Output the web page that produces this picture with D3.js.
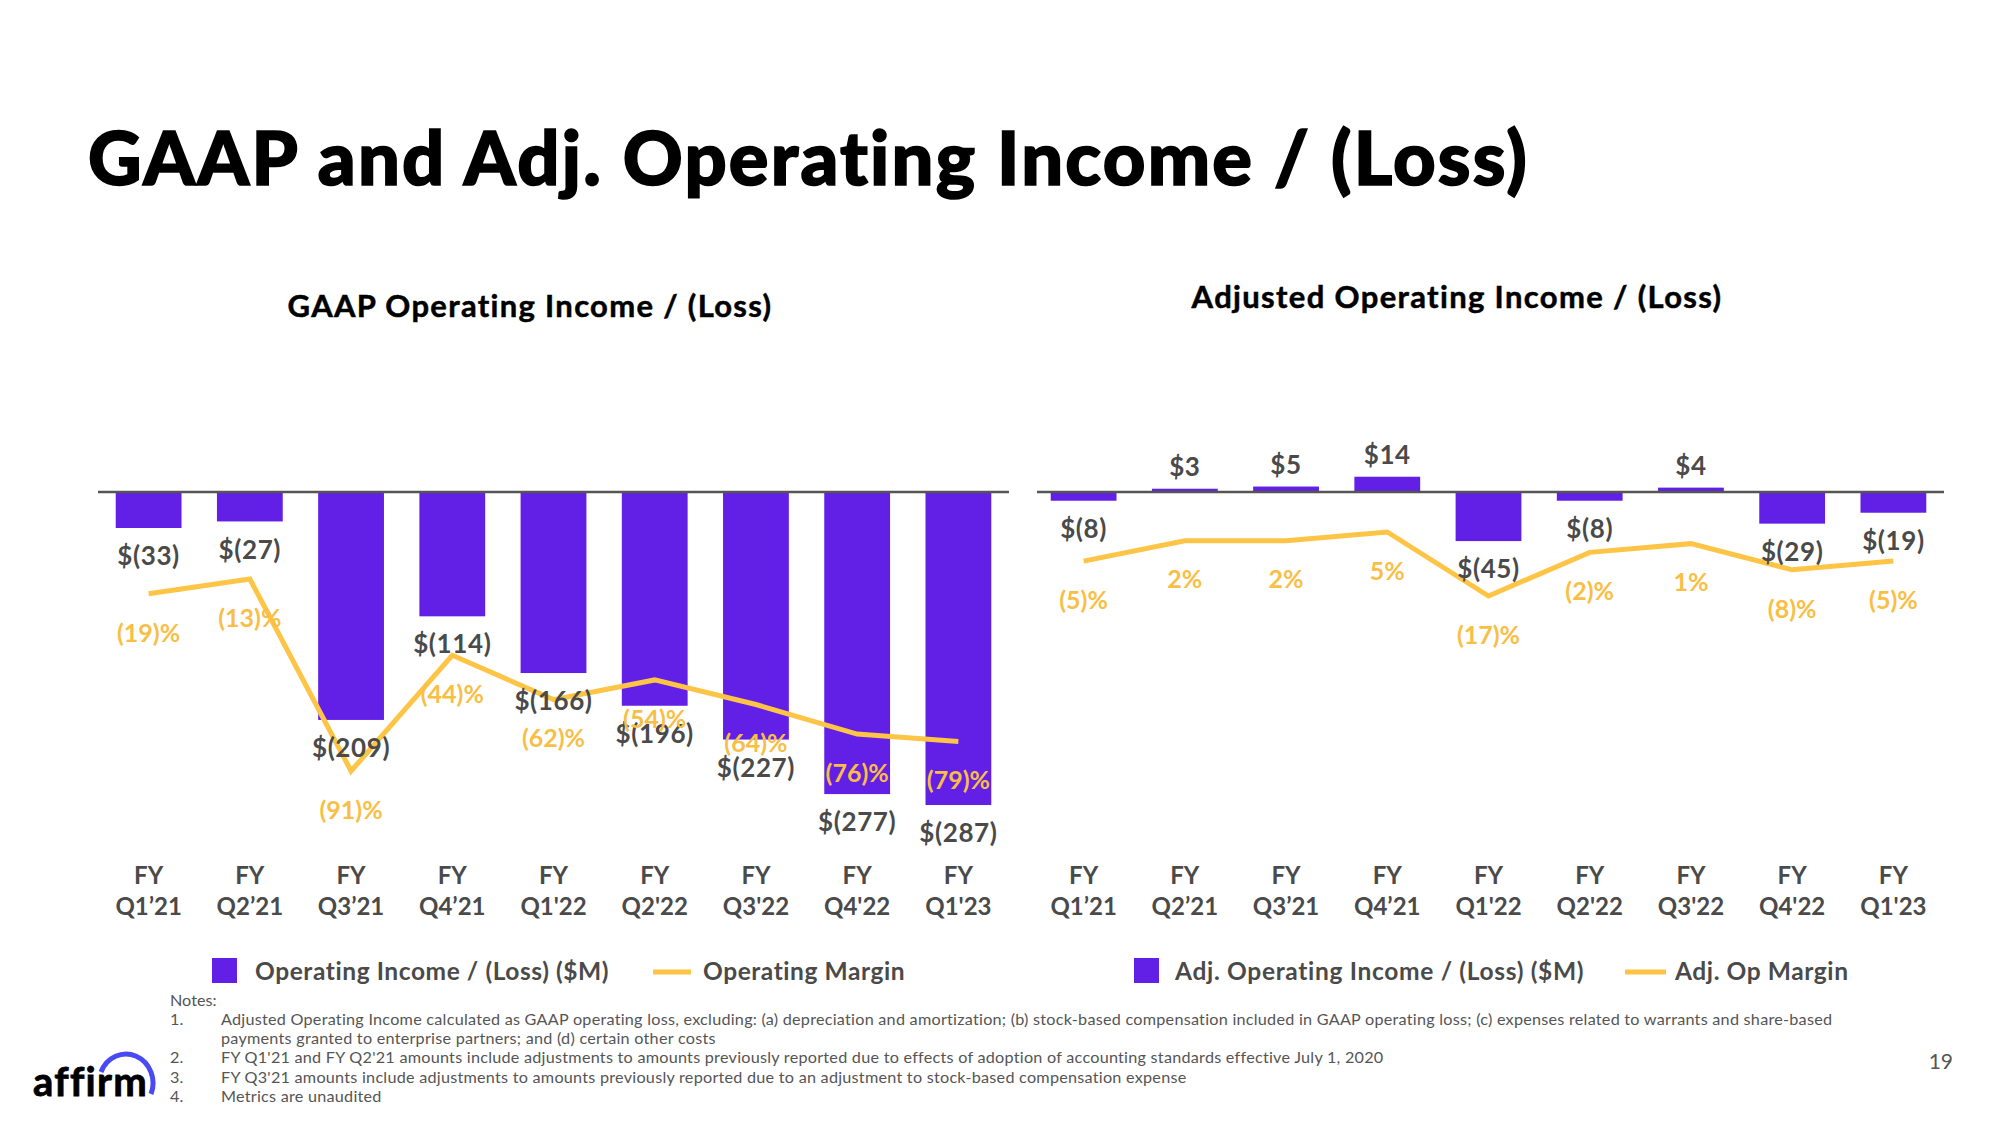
<!DOCTYPE html>
<html>
<head>
<meta charset="utf-8">
<script src="https://cdn.jsdelivr.net/npm/d3@7"></script>
<style>
  html, body { margin: 0; padding: 0; background: #fff; }
  svg { display: block; }
  text { font-family: "Lato", "Noto Sans", sans-serif; }
</style>
</head>
<body>
<svg id="chart" width="2000" height="1125"></svg>
<script>
// ---- data ----
const categories = ["Q1’21", "Q2’21", "Q3’21", "Q4’21", "Q1'22", "Q2'22", "Q3'22", "Q4'22", "Q1'23"];
const gaapIncome = [-33, -27, -209, -114, -166, -196, -227, -277, -287];
const gaapMargin = [-19, -13, -91, -44, -62, -54, -64, -76, -79];
const adjIncome = [-8, 3, 5, 14, -45, -8, 4, -29, -19];
const adjMargin = [-5, 2, 2, 5, -17, -2, 1, -8, -5];
const notes = [
  ["1.", "Adjusted Operating Income calculated as GAAP operating loss, excluding: (a) depreciation and amortization; (b) stock-based compensation included in GAAP operating loss; (c) expenses related to warrants and share-based"],
  ["", "payments granted to enterprise partners; and (d) certain other costs"],
  ["2.", "FY Q1'21 and FY Q2'21 amounts include adjustments to amounts previously reported due to effects of adoption of accounting standards effective July 1, 2020"],
  ["3.", "FY Q3'21 amounts include adjustments to amounts previously reported due to an adjustment to stock-based compensation expense"],
  ["4.", "Metrics are unaudited"]
];

const PURPLE = "#621FE6";
const GOLD = "#FDC445";
const GOLD_TXT = "#F9BE45";
const GRAY = "#4A4A4A";

const svg = d3.select("#chart");

// stretch a text to a target width with letter-spacing
function fit(sel, target) {
  const node = sel.node();
  const len = node.getComputedTextLength();
  const n = node.textContent.length;
  if (n > 1) sel.attr("letter-spacing", (target - len) / (n - 1));
  return sel;
}

// Title
fit(svg.append("text").attr("x", 88).attr("y", 185)
  .attr("font-size", 74).attr("font-weight", 900).attr("fill", "#000")
  .attr("stroke", "#000").attr("stroke-width", 1.6)
  .text("GAAP and Adj. Operating Income / (Loss)"), 1440);

const fmtMoney = v => v < 0 ? `$(${Math.abs(v)})` : `$${v}`;
const fmtPct = v => v < 0 ? `(${Math.abs(v)})%` : `${v}%`;

function panel(opts) {
  const g = svg.append("g");
  const x = d3.scaleBand().domain(categories).range(opts.xRange)
    .paddingInner(0.35).paddingOuter(0.175);
  const y = d3.scaleLinear().domain([0, -287]).range([492, 805]);
  const ym = d3.scaleLinear().domain(opts.mDomain).range(opts.mRange);
  const data = categories.map((c, i) => ({ c, v: opts.income[i], m: opts.margin[i] }));

  // subtitle
  fit(g.append("text").attr("x", opts.subX).attr("y", opts.subY)
    .attr("text-anchor", "middle").attr("font-size", 31).attr("font-weight", 700)
    .attr("fill", "#000").attr("stroke", "#000").attr("stroke-width", 0.5)
    .text(opts.subtitle), opts.subW);

  // bars
  g.selectAll("rect.bar").data(data).join("rect").attr("class", "bar")
    .attr("x", d => x(d.c))
    .attr("width", x.bandwidth())
    .attr("y", d => Math.min(y(d.v), y(0)))
    .attr("height", d => Math.abs(y(d.v) - y(0)))
    .attr("fill", PURPLE);

  // zero line
  g.append("line").attr("x1", opts.lineX[0]).attr("x2", opts.lineX[1])
    .attr("y1", y(0)).attr("y2", y(0))
    .attr("stroke", "#555").attr("stroke-width", 2.5);

  // margin line
  const line = d3.line().x(d => x(d.c) + x.bandwidth() / 2).y(d => ym(d.m));
  g.append("path").datum(data).attr("d", line)
    .attr("fill", "none").attr("stroke", GOLD).attr("stroke-width", 5)
    .attr("stroke-linejoin", "miter");

  // value labels
  g.selectAll("text.val").data(data).join("text").attr("class", "val")
    .attr("x", d => x(d.c) + x.bandwidth() / 2)
    .attr("y", d => d.v < 0 ? y(d.v) + 28 : y(d.v) - 22)
    .attr("dy", "0.35em")
    .attr("text-anchor", "middle").attr("font-size", 26).attr("font-weight", 700)
    .attr("letter-spacing", 0.6)
    .attr("fill", GRAY).text(d => fmtMoney(d.v));

  // margin labels
  g.selectAll("text.pct").data(data).join("text").attr("class", "pct")
    .attr("x", d => x(d.c) + x.bandwidth() / 2)
    .attr("y", d => ym(d.m) + 39)
    .attr("dy", "0.35em")
    .attr("text-anchor", "middle").attr("font-size", 25).attr("font-weight", 700)
    .attr("fill", GOLD_TXT).text(d => fmtPct(d.m));

  // x axis
  const ax = g.append("g").call(d3.axisBottom(x).tickSize(0).tickPadding(0));
  ax.select(".domain").remove();
  ax.selectAll(".tick text").each(function (d) {
    const t = d3.select(this);
    t.text(null).attr("y", 0).attr("dy", null)
      .attr("font-size", 24).attr("font-weight", 700).attr("fill", GRAY)
      .attr("font-family", "Lato, 'Noto Sans', sans-serif");
    t.append("tspan").attr("x", 0).attr("y", 884).text("FY");
    t.append("tspan").attr("x", 0).attr("y", 915).text(d);
  });

  // legend
  const lg = g.append("g");
  lg.append("rect").attr("x", opts.leg.sq).attr("y", 958).attr("width", 25).attr("height", 25).attr("fill", PURPLE);
  fit(lg.append("text").attr("x", opts.leg.t1).attr("y", 980).attr("font-size", 24.5).attr("font-weight", 700)
    .attr("fill", GRAY).text(opts.leg.l1), opts.leg.w1);
  lg.append("line").attr("x1", opts.leg.ln[0]).attr("x2", opts.leg.ln[1]).attr("y1", 972).attr("y2", 972)
    .attr("stroke", GOLD).attr("stroke-width", 5);
  fit(lg.append("text").attr("x", opts.leg.t2).attr("y", 980).attr("font-size", 24.5).attr("font-weight", 700)
    .attr("fill", GRAY).text(opts.leg.l2), opts.leg.w2);
}

panel({
  xRange: [98, 1009], lineX: [98, 1009],
  income: gaapIncome, margin: gaapMargin,
  mDomain: [0, -91], mRange: [547, 771],
  subtitle: "GAAP Operating Income / (Loss)", subX: 530, subY: 317, subW: 484,
  leg: { sq: 212, t1: 255, l1: "Operating Income / (Loss) ($M)", w1: 354, ln: [653, 691], t2: 703, l2: "Operating Margin", w2: 202 }
});
panel({
  xRange: [1033, 1944], lineX: [1037, 1944],
  income: adjIncome, margin: adjMargin,
  mDomain: [5, -17], mRange: [532, 596],
  subtitle: "Adjusted Operating Income / (Loss)", subX: 1457, subY: 308, subW: 530,
  leg: { sq: 1134, t1: 1175, l1: "Adj. Operating Income / (Loss) ($M)", w1: 409, ln: [1625, 1666], t2: 1675, l2: "Adj. Op Margin", w2: 173 }
});

// Notes
const NOTE_FS = 16.2;
svg.append("text").attr("x", 170).attr("y", 1006).attr("font-size", NOTE_FS).attr("fill", "#555").text("Notes:");
notes.forEach((n, i) => {
  const yy = [1025, 1044, 1063, 1083, 1102][i];
  if (n[0]) svg.append("text").attr("x", 170).attr("y", yy).attr("font-size", NOTE_FS).attr("fill", "#555").text(n[0]);
  const t = svg.append("text").attr("x", 221).attr("y", yy).attr("font-size", NOTE_FS).attr("fill", "#555").text(n[1]);
  if (i === 0) fit(t, 1613);
  else t.attr("letter-spacing", svg.select("text[data-first]").empty() ? null : null);
});
// apply same letter-spacing as the first note line to the others
(function () {
  const texts = svg.selectAll("text").filter(function () { return +this.getAttribute("x") === 221; });
  const ls = texts.filter((d, i) => i === 0).attr("letter-spacing");
  texts.attr("letter-spacing", ls);
})();

// page number
svg.append("text").attr("x", 1953).attr("y", 1069).attr("text-anchor", "end")
  .attr("font-size", 21).attr("fill", "#555").text("19");

// logo
fit(svg.append("text").attr("x", 33).attr("y", 1096).attr("font-size", 40).attr("font-weight", 700)
  .attr("fill", "#000").attr("stroke", "#000").attr("stroke-width", 0.8).text("affirm"), 112);
svg.append("path").attr("d", "M101,1072 A27,29 0 0 1 151,1094")
  .attr("fill", "none").attr("stroke", "#4A4AF4").attr("stroke-width", 5);
</script>
</body>
</html>
